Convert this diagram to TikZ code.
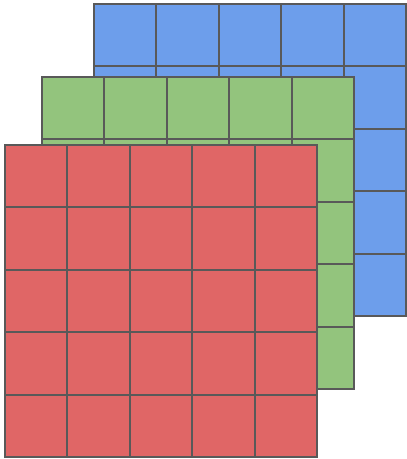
\documentclass[tikz,border=0pt]{standalone}
\usepackage{tikz}
\definecolor{lyblue}{HTML}{6D9EEB}
\definecolor{lygreen}{HTML}{93C47D}
\definecolor{lyred}{HTML}{E06666}
\definecolor{lyline}{HTML}{595959}

\begin{document}
\begin{tikzpicture}[x=1pt,y=1pt]
  \useasboundingbox (0,0) rectangle (407,459);
  \foreach \x/\y/\c in {94/143/lyblue,42/70/lygreen,5/2/lyred}{
    \begin{scope}[shift={(\x,\y)}]
      \fill[\c] (0,0) rectangle (312,312);
      \draw[lyline,line width=2pt,step=62.4pt] (0,0) grid (311.9,311.9);
      \draw[lyline,line width=2pt] (0,0) rectangle (312,312);
    \end{scope}
  }
\end{tikzpicture}
\end{document}
